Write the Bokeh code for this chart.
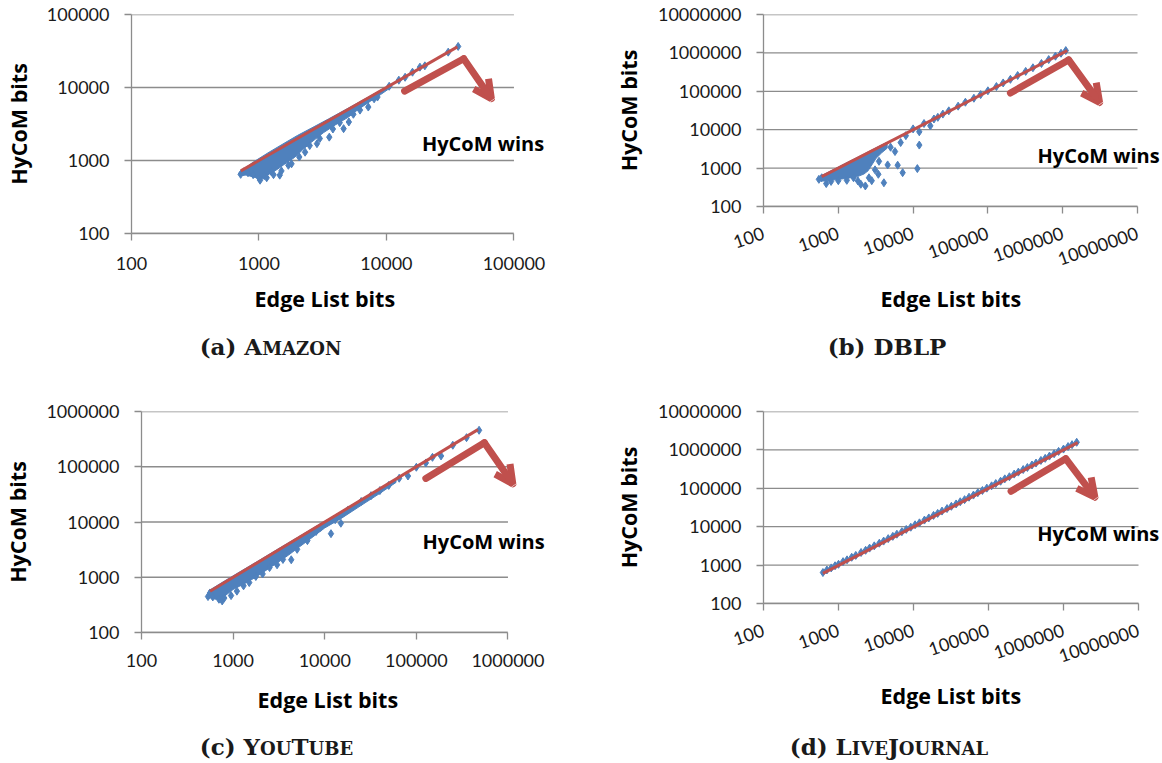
from bokeh.plotting import figure
from bokeh.models import (Range1d, FixedTicker, Arrow, OpenHead, Div, Label, Title,
                          CustomJSTickFormatter)
from bokeh.layouts import column, row
from bokeh.embed import file_html
from bokeh.resources import INLINE

# ---------------------------------------------------------------- data
X_LABEL = "Edge List bits"
Y_LABEL = "HyCoM bits"
WIN_TEXT = "HyCoM wins"

ticks_e5 = [100, 1000, 10000, 100000]
labels_e5 = ["100", "1000", "10000", "100000"]
ticks_e6 = [100, 1000, 10000, 100000, 1000000]
labels_e6 = ["100", "1000", "10000", "100000", "1000000"]
ticks_e7 = [100, 1000, 10000, 100000, 1000000, 10000000]
labels_e7 = ["100", "1000", "10000", "100000", "1000000", "10000000"]

# (a) Amazon
amazon_diag_x = [720, 36000]
amazon_diag_y = [720, 36000]
amazon_cloud_x = [700, 900, 1200, 1600, 2000, 2600, 3500, 5000, 7000, 9000, 11000,
                  11000, 9000, 7500, 6000, 5000, 4000, 3200, 2600, 2200, 1900, 1600,
                  1400, 1200, 1050, 950, 800, 700]
amazon_cloud_y = [690, 950, 1300, 1750, 2200, 2800, 3700, 5200, 7200, 9200, 11000,
                  10200, 8000, 6500, 5000, 3900, 3100, 2400, 1800, 1400, 1100, 900,
                  760, 650, 560, 580, 630, 640]
amazon_x = [718, 760, 820, 900, 1000, 1020, 1100, 1150, 1250, 1300, 1455, 1500, 1700,
            1800, 2070, 2300, 2500, 2850, 3000, 3560, 3800, 4300, 4610, 5070, 5500,
            6200, 7200, 8000, 8500, 10500, 12500, 14000, 16000, 18300, 20000, 30500,
            36500]
amazon_y = [646, 700, 680, 640, 580, 537, 620, 580, 700, 640, 630, 720, 860,
            900, 1117, 1300, 1600, 1700, 2000, 2090, 2700, 3300, 2730, 3370, 4300,
            4900, 5400, 7000, 7400, 10400, 12600, 13800, 16200, 19000, 19800, 30500,
            36500]

# (b) DBLP
dblp_diag_x = [600, 1150000]
dblp_diag_y = [600, 1150000]
dblp_cloud_x = [560, 800, 1200, 1800, 2600, 3500, 4500,
                4500, 3800, 3200, 2800, 2500, 2200, 1800, 1300, 1000, 800, 650, 560]
dblp_cloud_y = [600, 850, 1280, 1900, 2750, 3700, 4700,
                3300, 2500, 1800, 1200, 850, 700, 600, 540, 510, 480, 460, 470]
dblp_x = [550, 600, 690, 800, 1000, 1300, 1600, 1830, 2000, 2300, 2570, 2800, 3100,
          3430, 3500, 4070, 4570, 5000, 5730, 6220, 6820, 7250, 8000, 10000, 11400,
          12100, 12100, 14000, 17000, 19000, 21400, 25000, 30000, 40000, 50000, 65000,
          80000, 100000, 130000, 160000, 200000, 250000, 320000, 400000, 520000,
          650000, 800000, 950000, 1100000]
dblp_y = [510, 560, 395, 450, 470, 480, 560, 463, 380, 343, 560, 470, 900,
          690, 1500, 415, 1210, 3500, 2700, 1190, 4630, 760, 7000, 10500, 970,
          3980, 8800, 14500, 12600, 19000, 21000, 25500, 31000, 41000, 52000, 66000,
          82000, 103000, 133000, 165000, 205000, 258000, 330000, 410000, 530000,
          670000, 820000, 980000, 1150000]

# (c) YouTube
youtube_diag_x = [560, 470000]
youtube_diag_y = [560, 470000]
youtube_cloud_x = [540, 800, 1200, 2000, 3000, 5000, 8000, 12000, 20000, 35000, 60000,
                   60000, 40000, 25000, 15000, 10000, 7000, 5000, 4000, 3000, 2000,
                   1500, 1000, 800, 650, 540]
youtube_cloud_y = [570, 850, 1270, 2100, 3150, 5200, 8300, 12300, 20500, 35500, 61000,
                   52000, 33000, 20000, 11500, 7800, 5000, 3300, 2500, 1800, 1150,
                   850, 600, 450, 400, 430]
youtube_x = [532, 560, 600, 700, 760, 800, 950, 1100, 1300, 1500, 1770, 2100, 2500,
             3020, 3500, 4310, 5000, 6470, 8060, 9000, 11700, 13000, 15000, 18000,
             25000, 32000, 40000, 50000, 65000, 81000, 100000, 127000, 150000, 186000,
             250000, 353000, 484000]
youtube_y = [447, 520, 440, 400, 373, 420, 465, 560, 700, 800, 1030, 1150, 1500,
             1680, 2100, 2070, 3200, 4600, 6760, 8000, 6150, 11000, 9500, 16500,
             23500, 30000, 37000, 46000, 62000, 68000, 98000, 117000, 148000, 157000,
             245000, 336000, 457000]

# (d) LiveJournal
lj_diag_x = [620, 1550000]
lj_diag_y = [610, 1550000]
lj_x = [620, 700, 800, 900, 1000, 1150, 1300, 1500, 1700, 2000, 2300, 2600, 3000,
        3500, 4000, 4600, 5300, 6000, 7000, 8000, 9200, 10500, 12000, 14000, 16000,
        18500, 21000, 24000, 28000, 32000, 37000, 42000, 48000, 55000, 63000, 72000,
        83000, 95000, 110000, 125000, 145000, 165000, 190000, 220000, 250000, 290000,
        330000, 380000, 430000, 500000, 570000, 650000, 750000, 860000, 1000000,
        1150000, 1300000, 1500000]
lj_y = [640, 745, 845, 960, 1050, 1230, 1370, 1600, 1790, 2130, 2430, 2770, 3170,
        3720, 4220, 4890, 5600, 6380, 7400, 8500, 9700, 11200, 12600, 14900, 16900,
        19700, 22200, 25500, 29600, 34000, 39100, 44600, 50700, 58500, 66600, 76500,
        87800, 101000, 116000, 133000, 153000, 176000, 200000, 234000, 264000,
        308000, 348000, 404000, 454000, 532000, 602000, 690000, 792000, 915000,
        1050000, 1220000, 1370000, 1580000]

# ---------------------------------------------------------------- style
BLUE = "#4F81BD"
RED = "#C0504D"
GREY = "#8c8c8c"
TXT = "#1a1a1a"
TICK_FONT = "Lato"
LABEL_FONT = "Open Sans"


def panel(fig_w, fig_h, frame, ext, ticks, tick_labels, rot, cloud, pts, diag,
          win_xy, arrow_pts, ylab_std, xlab_std, xlab_off, xtick_std):
    fl, ft, fw, fh = frame
    lo, hi = ticks[0], ticks[-1]
    decades = len(ticks) - 1
    # the frame reaches `ext` px past the last tick so that the annotation fits
    x_end = hi * 10 ** (ext * decades / fw)
    p = figure(width=fig_w, height=fig_h, x_axis_type="log", y_axis_type="log",
               x_range=Range1d(lo, x_end), y_range=Range1d(lo, hi),
               output_backend="svg", toolbar_location=None,
               min_border_left=fl, min_border_right=fig_w - fl - fw - ext,
               min_border_top=ft, min_border_bottom=fig_h - ft - fh)
    p.outline_line_color = None
    p.background_fill_color = "white"
    p.border_fill_color = "white"

    overrides = {tk: lab for tk, lab in zip(ticks, tick_labels)}
    for ax in (p.xaxis[0], p.yaxis[0]):
        ax.ticker = FixedTicker(ticks=ticks)
        ax.formatter = CustomJSTickFormatter(code="return tick.toFixed(0);")
        ax.major_label_overrides = overrides
        ax.bounds = (lo, hi)
        ax.axis_line_color = GREY
        ax.axis_line_width = 1.3
        ax.major_tick_line_color = GREY
        ax.major_tick_line_width = 1.3
        ax.major_tick_out = 7
        ax.major_tick_in = 0
        ax.minor_tick_line_color = None
        ax.major_label_text_font = TICK_FONT
        ax.major_label_text_font_size = "18px"
        ax.major_label_text_color = TXT
        ax.axis_label_text_font = LABEL_FONT
        ax.axis_label_text_font_style = "bold"
        ax.axis_label_text_font_size = "21.5px"
        ax.axis_label_text_color = "#000000"
    p.yaxis.axis_label = Y_LABEL
    p.yaxis.major_label_standoff = 15
    p.yaxis.axis_label_standoff = ylab_std
    p.xaxis.major_label_standoff = xtick_std
    if rot:
        p.xaxis.major_label_orientation = rot
    # x-axis title, placed relative to the frame's left edge
    p.add_layout(Title(text=X_LABEL, align="left", offset=xlab_off,
                       standoff=xlab_std, vertical_align="top",
                       text_font=LABEL_FONT, text_font_style="bold",
                       text_font_size="21.5px", text_color="#000000"), "below")

    # horizontal gridlines, ending at the last tick
    p.xgrid.visible = False
    p.ygrid.visible = False
    p.segment(x0=[lo] * len(ticks), y0=ticks, x1=[hi] * len(ticks), y1=ticks,
              line_color=GREY, line_width=1.3, level="underlay")

    if cloud is not None:
        p.patch(cloud[0], cloud[1], fill_color=BLUE, line_color=BLUE, line_width=1)
    p.scatter(pts[0], pts[1], marker="diamond", size=8, fill_color=BLUE,
              line_color=BLUE)
    p.line(diag[0], diag[1], line_color=RED, line_width=3)

    # "HyCoM wins" arrow
    (x0, y0), (x1, y1), (x2, y2) = arrow_pts
    p.add_layout(Arrow(x_start=x0, y_start=y0, x_end=x1, y_end=y1, end=None,
                       line_color=RED, line_width=7, line_cap="round",
                       level="overlay"))
    p.add_layout(Arrow(x_start=x1, y_start=y1, x_end=x2, y_end=y2,
                       line_color=RED, line_width=7, line_cap="round",
                       level="overlay",
                       end=OpenHead(size=18, line_color=RED, line_width=7)))
    p.add_layout(Label(x=win_xy[0], y=win_xy[1], text=WIN_TEXT,
                       text_font=LABEL_FONT, text_font_style="bold",
                       text_font_size="20px", text_align="left",
                       text_baseline="middle", text_color="#000000",
                       level="overlay"))
    return p


def caption(parts, width, height, pad, shift):
    html = "".join(
        f'<span style="font-size:18px">{s}</span>' if small else s
        for s, small in parts)
    return Div(
        text=(f'<div style="font-family:\'DejaVu Serif\';font-weight:bold;'
              f'font-size:23px;line-height:24px;padding-top:{pad}px;'
              f'width:{width}px;text-align:center;position:relative;'
              f'left:{shift}px;white-space:nowrap;color:#1a1a1a">{html}</div>'),
        width=width, height=height, margin=(0, 0, 0, 0))


WL, WR = 565, 596

fa = panel(WL, 334, (125, 14, 388, 219), 32, ticks_e5, labels_e5, None,
           (amazon_cloud_x, amazon_cloud_y), (amazon_x, amazon_y),
           (amazon_diag_x, amazon_diag_y), (18970, 1703),
           [(13870, 8930), (40360, 24770), (66500, 7030)], 11, 22, 123, 16)
fb = panel(WR, 334, (198, 14, 374, 192), 24, ticks_e7, labels_e7, 0.33,
           (dblp_cloud_x, dblp_cloud_y), (dblp_x, dblp_y),
           (dblp_diag_x, dblp_diag_y), (460000, 2170),
           [(200000, 90400), (1200000, 656000), (3110000, 51300)], 12, 18, 117, 19)
fc = panel(WL, 362, (136, 39, 371, 221), 38, ticks_e6, labels_e6, None,
           (youtube_cloud_x, youtube_cloud_y), (youtube_x, youtube_y),
           (youtube_diag_x, youtube_diag_y), (116700, 4460),
           [(127000, 61500), (553000, 273000), (1130000, 49000)], 11, 30, 116, 14)
fd = panel(WR, 362, (198, 39, 375, 192), 23, ticks_e7, labels_e7, 0.33,
           None, (lj_x, lj_y),
           (lj_diag_x, lj_diag_y), (445000, 6490),
           [(200000, 84000), (1070000, 589000), (2620000, 58600)], 12, 18, 117, 19)

ca = caption([("(a) A", False), ("MAZON", True)], WL, 38, 0.5, -12)
cb = caption([("(b) DBLP", False)], WR, 38, 0.5, 24)
cc = caption([("(c) Y", False), ("OU", True), ("T", False), ("UBE", True)],
             WL, 27, 0.7, -6)
cd = caption([("(d) L", False), ("IVE", True), ("J", False), ("OURNAL", True)],
             WR, 27, 0.7, 26)

layout = column(row(column(fa, ca), column(fb, cb)),
                row(column(fc, cc), column(fd, cd)))

open("out.html", "w").write(file_html(layout, INLINE))
